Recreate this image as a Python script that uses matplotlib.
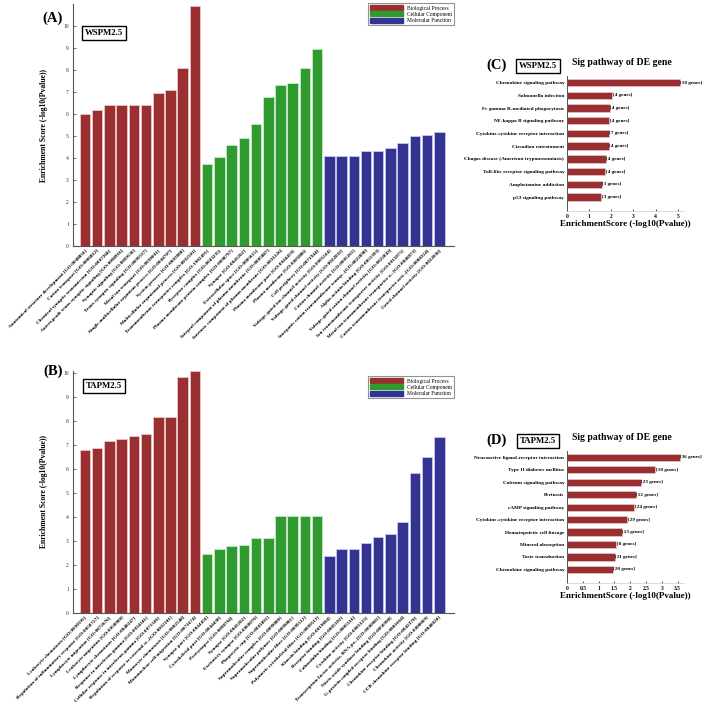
import matplotlib
matplotlib.use("Agg")
import matplotlib.pyplot as plt
from matplotlib.patches import Patch
import numpy as np

plt.rcParams['font.family'] = ['Liberation Serif', 'DejaVu Serif']

W, H = 708, 712

# ---------------- Data ----------------
a_bp_labels = ["Anatomical structure development [GO:0048856]", "Cation transport [GO:0006812]",
               "Chemical synaptic transmission [GO:0007268]", "Anterograde trans-synaptic signaling [GO:0098916]",
               "Synaptic signaling [GO:0099536]", "Trans-synaptic signaling [GO:0099537]",
               "Metal ion transport [GO:0030001]", "Single-multicellular organism process [GO:0044707]",
               "System process [GO:0003008]", "Multicellular organismal process [GO:0032501]"]
a_bp_values = [6.0, 6.2, 6.4, 6.4, 6.4, 6.4, 6.95, 7.1, 8.1, 10.9]
a_cc_labels = ["Transmembrane transporter complex [GO:1902495]", "Receptor complex [GO:0043235]",
               "Plasma membrane protein complex [GO:0098797]", "Synapse [GO:0045202]",
               "Extracellular space [GO:0005615]", "Integral component of plasma membrane [GO:0005887]",
               "Intrinsic component of plasma membrane [GO:0031226]", "Plasma membrane part [GO:0044459]",
               "Plasma membrane [GO:0005886]", "Cell periphery [GO:0071944]"]
a_cc_values = [3.72, 4.03, 4.58, 4.9, 5.55, 6.77, 7.3, 7.42, 8.1, 8.95]
a_mf_labels = ["Voltage-gated ion channel activity [GO:0005244]", "Voltage-gated channel activity [GO:0022832]",
               "Cation channel activity [GO:0005261]", "Inorganic cation transmembrane transp...[GO:0022890]",
               "Alpha-actinin binding [GO:0051393]", "Voltage-gated cation channel activity [GO:0022843]",
               "Ion transmembrane transporter activity [GO:0015075]", "Metal ion transmembrane transporter a...[GO:0046873]",
               "Cation transmembrane transporter acti...[GO:0008324]", "Gated channel activity [GO:0022836]"]
a_mf_values = [4.09, 4.09, 4.09, 4.33, 4.33, 4.47, 4.7, 4.99, 5.03, 5.18]

b_bp_labels = ["Leukocyte chemotaxis [GO:0030595]", "Regulation of inflammatory response [GO:0050727]",
               "Lymphocyte migration [GO:0072676]", "Leukocyte migration [GO:0050900]",
               "Lymphocyte chemotaxis [GO:0048247]", "Response to interferon-gamma [GO:0034341]",
               "Cellular response to interferon-gamma [GO:0071346]", "Regulation of response to external st...[GO:0032101]",
               "Monocyte chemotaxis [GO:0002548]", "Mononuclear cell migration [GO:0071674]"]
b_bp_values = [6.79, 6.9, 7.18, 7.25, 7.38, 7.47, 8.17, 8.2, 9.85, 10.1]
b_cc_labels = ["Synapse part [GO:0044456]", "Cytoskeletal part [GO:0044430]", "Postsynapse [GO:0098794]",
               "Synapse [GO:0045202]", "Excitatory synapse [GO:0060076]", "Phagocytic cup [GO:0001891]",
               "Supramolecular complex [GO:0099080]", "Supramolecular polymer [GO:0099081]",
               "Supramolecular fiber [GO:0099512]", "Polymeric cytoskeletal fiber [GO:0099513]"]
b_cc_values = [2.47, 2.67, 2.8, 2.84, 3.11, 3.12, 4.06, 4.06, 4.06, 4.06]
b_mf_labels = ["Kinesin binding [GO:0019894]", "Receptor binding [GO:0005102]", "Calmodulin binding [GO:0005516]",
               "Cytokine activity [GO:0005125]", "Transcription factor activity, RNA po...[GO:0000981]",
               "Nitric-oxide synthase binding [GO:0050998]", "G-protein coupled receptor binding [GO:0001664]",
               "Chemokine receptor binding [GO:0042379]", "Chemokine activity [GO:0008009]",
               "CCR chemokine receptor binding [GO:0048020]"]
b_mf_values = [2.39, 2.69, 2.69, 2.94, 3.17, 3.31, 3.81, 5.85, 6.53, 7.33]

c_labels = ["Chemokine signaling pathway", "Salmonella infection", "Fc gamma R-mediated phagocytosis",
            "NF-kappa B signaling pathway", "Cytokine-cytokine receptor interaction", "Circadian entrainment",
            "Chagas disease (American trypanosomiasis)", "Toll-like receptor signaling pathway",
            "Amphetamine addiction", "p53 signaling pathway"]
c_values = [5.09, 2.03, 1.93, 1.89, 1.88, 1.88, 1.75, 1.73, 1.57, 1.55]
c_genes = [10, 4, 4, 4, 7, 4, 4, 4, 3, 3]

d_labels = ["Neuroactive ligand-receptor interaction", "Type II diabetes mellitus", "Calcium signaling pathway",
            "Pertussis", "cAMP signaling pathway", "Cytokine-cytokine receptor interaction",
            "Hematopoietic cell lineage", "Mineral absorption", "Taste transduction", "Chemokine signaling pathway"]
d_values = [3.56, 2.79, 2.33, 2.17, 2.13, 1.91, 1.73, 1.56, 1.51, 1.44]
d_genes = [36, 10, 23, 12, 24, 29, 13, 8, 11, 20]

cat_names = ["Biological Process", "Cellular Component", "Molecular Function"]
cat_colors = ["#9a2f31", "#2f9a30", "#333392"]
edge_colors = ["#e8c8c8", "#c8ecc8", "#c8c8ee"]

fig = plt.figure(figsize=(W / 100, H / 100), dpi=100)
fig.patch.set_facecolor("white")


def ax_px(l, t, r, b):
    return fig.add_axes([l / W, 1 - b / H, (r - l) / W, (b - t) / H])


def go_panel(l, t, r, b, groups, ytop, letter, tag, ylab_y):
    ax = ax_px(l, t, r, b)
    labels, values, colors, edges = [], [], [], []
    for (lab, val), c, e in zip(groups, cat_colors, edge_colors):
        labels += lab
        values += val
        colors += [c] * len(val)
        edges += [e] * len(val)
    x = np.arange(len(values))
    ax.bar(x, values, width=0.86, color=colors, edgecolor=edges, linewidth=0.6)
    ax.set_xlim(-0.98, len(values) + 0.2)
    ax.set_ylim(0, ytop)
    ax.set_yticks(np.arange(0, 11))
    ax.tick_params(axis='y', labelsize=4, length=2, width=0.5, direction='in', pad=3, colors='#333333')
    ax.set_xticks(x)
    ax.set_xticklabels(labels, rotation=45, ha='right', rotation_mode='anchor', fontsize=3.7,
                       fontweight='bold')
    ax.tick_params(axis='x', length=0, pad=2)
    for s in ['top', 'right']:
        ax.spines[s].set_visible(False)
    for s in ['left', 'bottom']:
        ax.spines[s].set_color('#555555')
        ax.spines[s].set_linewidth(0.8)
    ax.set_ylabel("Enrichment Score (-log10(Pvalue))", fontsize=5.5, fontweight='bold', labelpad=11)
    fig.text(53 / W, 1 - ylab_y / H, letter, fontsize=10.5, fontweight='bold', ha='center', va='center')
    fig.text(104 / W, 1 - (ylab_y + 15) / H, tag, fontsize=6.3, fontweight='bold', ha='center', va='center',
             bbox=dict(boxstyle='square,pad=0.35', facecolor='white', edgecolor='black', linewidth=1.0))
    return ax


ax_a = go_panel(73, 4, 454, 246,
                [(a_bp_labels, a_bp_values), (a_cc_labels, a_cc_values), (a_mf_labels, a_mf_values)],
                11.0, "(A)", "WSPM2.5", 18)
ax_b = go_panel(73, 371, 454, 613,
                [(b_bp_labels, b_bp_values), (b_cc_labels, b_cc_values), (b_mf_labels, b_mf_values)],
                10.1, "(B)", "TAPM2.5", 371)

handles = [Patch(facecolor=c, edgecolor=c) for c in cat_colors]
for top in [3, 376]:
    leg = fig.legend(handles, cat_names, loc='upper right', bbox_to_anchor=(454 / W, 1 - top / H),
                     fontsize=4, frameon=True, fancybox=False, handlelength=6, handleheight=1.0,
                     borderpad=0.4, labelspacing=0.15, handletextpad=0.6, borderaxespad=0)
    leg.get_frame().set_edgecolor('#777777')
    leg.get_frame().set_linewidth(0.8)


def kegg_panel(l, t, r, b, labels, values, genes, xmax, xticks, xticklabels, letter, tag):
    ax = ax_px(l, t, r, b)
    y = np.arange(len(values))
    ax.barh(y, values, height=0.58, color=cat_colors[0], edgecolor='#e8c8c8', linewidth=0.5)
    ax.set_ylim(len(values) - 1 + 1.1, -0.52)
    ax.set_xlim(0, xmax)
    ax.set_yticks(y)
    ax.set_yticklabels(labels, fontsize=3.8, fontweight='bold')
    ax.tick_params(axis='y', length=0, pad=2)
    ax.set_xticks(xticks)
    ax.set_xticklabels(xticklabels, fontsize=4, fontweight='bold')
    ax.tick_params(axis='x', length=1.5, width=0.5, pad=2, direction='in')
    for s in ['top', 'right']:
        ax.spines[s].set_visible(False)
    ax.spines['left'].set_color('#555555')
    ax.spines['left'].set_linewidth(0.7)
    ax.spines['bottom'].set_color('#cccccc')
    ax.spines['bottom'].set_linewidth(0.5)
    for yi, v, g in zip(y, values, genes):
        ax.text(v + xmax * 0.006, yi, "[%d genes]" % g, fontsize=3.7, fontweight='bold', va='center', ha='left',
                clip_on=False)
    ax.set_xlabel("EnrichmentScore (-log10(Pvalue))", fontsize=6.5, fontweight='bold', labelpad=1)
    ax.set_title("Sig pathway of DE gene", fontsize=7, fontweight='bold', pad=8, x=0.47)
    fig.text(497 / W, 1 - (t - 11) / H, letter, fontsize=10.5, fontweight='bold', ha='center', va='center')
    fig.text(538 / W, 1 - (t - 10) / H, tag, fontsize=6.3, fontweight='bold', ha='center', va='center',
             bbox=dict(boxstyle='square,pad=0.35', facecolor='white', edgecolor='black', linewidth=1.0))
    return ax


kegg_panel(567, 76, 684, 211, c_labels, c_values, c_genes, 5.28,
           [0, 1, 2, 3, 4, 5], ["0", "1", "2", "3", "4", "5"], "(C)", "WSPM2.5")
kegg_panel(567, 451, 684, 583, d_labels, d_values, d_genes, 3.70,
           [0, 0.5, 1, 1.5, 2, 2.5, 3, 3.5], ["0", "0.5", "1", "1.5", "2", "2.5", "3", "3.5"], "(D)", "TAPM2.5")

fig.savefig("out.png", dpi=100, facecolor='white')
